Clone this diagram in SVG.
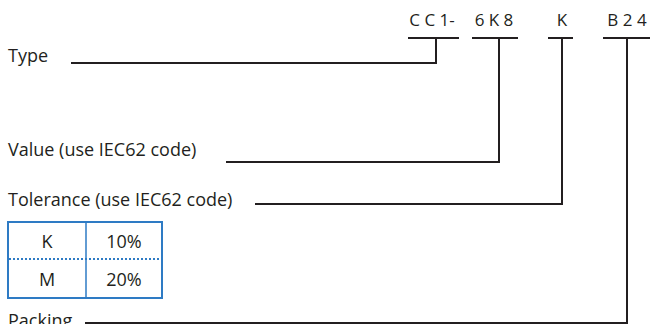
<svg xmlns="http://www.w3.org/2000/svg" width="651" height="324" viewBox="0 0 651 324">
<style>
text{font-family:"Open Sans","Liberation Sans",sans-serif;font-size:18px;fill:#231f20}
.c{text-anchor:middle}
.s{font-size:17px}
.ln{fill:none;stroke:#231f20;stroke-width:2;stroke-linejoin:miter;stroke-linecap:butt}
.tb{fill:none;stroke:#2e7bc4;stroke-width:2}
.tv{stroke:#2e7bc4;stroke-width:1.5}
.td{stroke:#2e7bc4;stroke-width:2;stroke-dasharray:2 2}
</style>
<rect width="651" height="324" fill="#ffffff"/>
<g id="code">
<text x="432" y="26" class="c s">C C 1-</text>
<text x="494" y="26" class="c s">6 K 8</text>
<text x="562" y="26" class="c s">K</text>
<text x="627" y="26" class="c s">B 2 4</text>
</g>
<g id="type"><text x="8" y="62">Type</text></g>
<g id="value"><text x="8" y="156">Value (use IEC62 code)</text></g>
<g id="tolerance"><text x="8" y="206">Tolerance (use IEC62 code)</text></g>
<g id="table">
<rect x="8" y="222" width="154" height="76" class="tb"/>
<line x1="86" y1="222" x2="86" y2="298" class="tv"/>
<line x1="9" y1="259" x2="161" y2="259" class="td"/>
<text x="47" y="248" class="c">K</text>
<text x="124" y="248" class="c">10%</text>
<text x="47" y="286" class="c">M</text>
<text x="124" y="286" class="c">20%</text>
</g>
<g id="packing"><text x="8" y="327">Packing</text></g>
<g id="connectors">
<path class="ln" d="M408 38H459M436 38V63H71"/>
<path class="ln" d="M472 38H518M499 38V162H226"/>
<path class="ln" d="M548 38H573M562 38V204H255"/>
<path class="ln" d="M603 38H650M627 38V323H85"/>
</g>
</svg>
